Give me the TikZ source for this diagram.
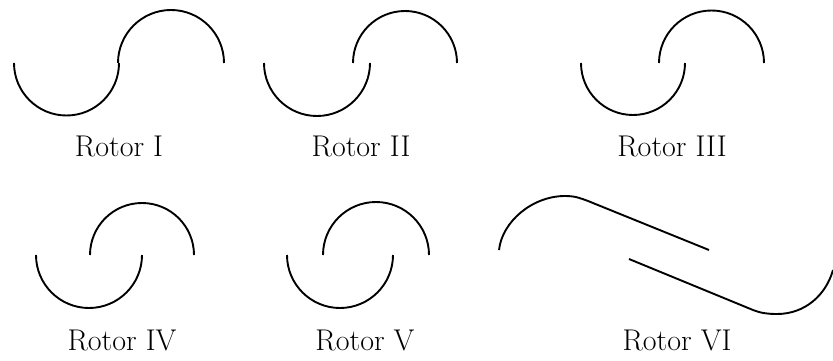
\documentclass[tikz,border=0pt]{standalone}
\usepackage{fontspec}
\usetikzlibrary{positioning}

\begin{document}
\begin{tikzpicture}[x=1pt, y=-1pt, blade/.style={draw, line width=1.9pt}, rlabel/.style={inner sep=0pt, font=\fontsize{30}{32}\selectfont}]
\useasboundingbox (0,0) rectangle (833,361);
\coordinate (aL) at (14,63);
\coordinate (aU) at (118,63);
\coordinate (bL) at (264,63);
\coordinate (bU) at (353,63);
\coordinate (cL) at (581,63);
\coordinate (cU) at (659,63);
\coordinate (dL) at (36,255);
\coordinate (dU) at (90,255);
\coordinate (eL) at (287,255);
\coordinate (eU) at (323,255);
\draw[blade] (aL) arc[start angle=180, end angle=0, radius=52.5];
\draw[blade] (aU) arc[start angle=180, end angle=360, radius=53];
\draw[blade] (bL) arc[start angle=180, end angle=0, radius=53];
\draw[blade] (bU) arc[start angle=180, end angle=360, radius=52];
\draw[blade] (cL) arc[start angle=180, end angle=0, radius=52];
\draw[blade] (cU) arc[start angle=180, end angle=360, radius=52.5];
\draw[blade] (dL) arc[start angle=180, end angle=0, radius=53];
\draw[blade] (dU) arc[start angle=180, end angle=360, radius=52];
\draw[blade] (eL) arc[start angle=180, end angle=0, radius=53];
\draw[blade] (eU) arc[start angle=180, end angle=360, radius=53];
\draw[blade] (499,250) .. controls (502,222) and (532,196) .. (565,196) .. controls (575,196) and (580,198) .. (588,201) -- (709,250);
\draw[blade] (629,259) -- (753,310) .. controls (760,313) and (768,314) .. (777,314) .. controls (805,314) and (826,295) .. (833,270);
\node[rlabel] (r1) at (119,146) {Rotor I};
\node[rlabel] (r2) at (361,146) {Rotor II};
\node[rlabel] (r3) at (672,146) {Rotor III};
\node[rlabel] (r4) at (122,340) {Rotor IV};
\node[rlabel] (r5) at (365,340) {Rotor V};
\node[rlabel] (r6) at (677,340) {Rotor VI};
\end{tikzpicture}
\end{document}
